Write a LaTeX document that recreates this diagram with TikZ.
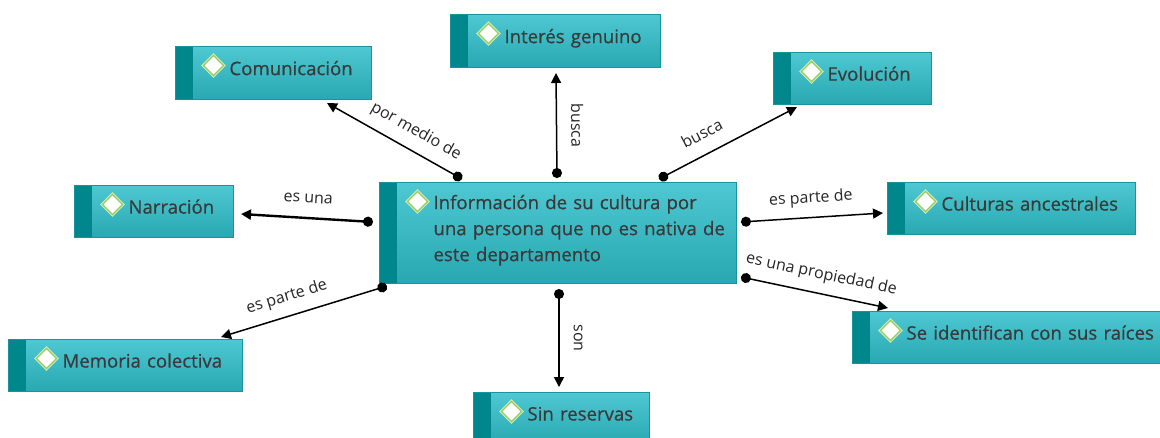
\documentclass[tikz,border=0pt]{standalone}
\usepackage{fontspec}
\setmainfont{Open Sans}
\newfontfamily\conceptfont{Open Sans}[FakeBold=0.6]
\usetikzlibrary{arrows.meta}

\definecolor{boxtop}{RGB}{78,200,210}
\definecolor{boxbot}{RGB}{40,168,178}
\definecolor{boxline}{RGB}{22,150,156}
\definecolor{boxstrip}{RGB}{0,135,140}
\definecolor{boxtext}{RGB}{58,58,58}
\definecolor{gem}{RGB}{150,205,95}

\begin{document}
\begin{tikzpicture}[
        x=1pt, y=-1pt,
        concept/.style={rectangle, draw=boxline, line width=1pt,
            top color=boxtop, bottom color=boxbot, anchor=north west,
            align=left, text=boxtext, font=\conceptfont\fontsize{18.6}{26}\selectfont,
            inner xsep=0pt, inner ysep=0pt,
            execute at begin node={\leftskip=54pt\vrule height 14pt depth 10pt width 0pt},
            execute at end node={\vrule height 14pt depth 10pt width 0pt},
            path picture={
                \fill[boxstrip] (path picture bounding box.north west) rectangle ([xshift=17pt]path picture bounding box.south west);
                \coordinate (gem_c) at ([shift={(38pt,-19pt)}]path picture bounding box.north west);
                \draw[gem!45, line width=3.5pt] (gem_c) ++(-10pt,0pt) -- ++(10pt,10pt) -- ++(10pt,-10pt) -- ++(-10pt,-10pt) -- cycle;
                \filldraw[fill=white, draw=gem, line width=1.3pt] (gem_c) ++(-10pt,0pt) -- ++(10pt,10pt) -- ++(10pt,-10pt) -- ++(-10pt,-10pt) -- cycle;
            }},
        link/.style={draw=black, line width=1.5pt, {Circle[length=10pt]}-{Triangle[length=10pt,width=10pt]}},
        link_back/.style={draw=black, line width=1.5pt, {Triangle[length=10pt,width=10pt]}-{Circle[length=10pt]}},
        link_label/.style={font=\fontsize{16}{18}\selectfont, text=black!85, inner sep=2pt,
            text height=12pt, text depth=4pt, sloped, above=8pt}
    ]

    \useasboundingbox (0,0) rectangle (1160,437);

    % --- Concepts ---
    \node[concept, text width=357pt, minimum height=101pt] (ctr) at (379,182)
        {Información de su cultura por\\una persona que no es nativa de\\este departamento};

    \node[concept, text width=196pt, minimum height=53pt] (com) at (175,46) {Comunicación};
    \node[concept, text width=210pt, minimum height=53pt] (int) at (450,14) {Interés genuino};
    \node[concept, text width=158pt, minimum height=52pt] (evo) at (773,52) {Evolución};
    \node[concept, text width=159pt, minimum height=52pt] (nar) at (74,185) {Narración};
    \node[concept, text width=248pt, minimum height=52pt] (cul) at (887,182) {Culturas ancestrales};
    \node[concept, text width=310pt, minimum height=52pt] (ide) at (852,311) {Se identifican con sus raíces};
    \node[concept, text width=234pt, minimum height=52pt] (mem) at (8,339) {Memoria colectiva};
    \node[concept, text width=176pt, minimum height=52pt] (sin) at (473,392) {Sin reservas};

    % --- Links ---
    \draw[link] ([shift={(83,-3)}]ctr.north west) -- node[link_label, pos=0.41] {por medio de} ([shift={(-45,3)}]com.south east);
    \draw[link_back] ([shift={(106,5)}]int.south west) -- node[link_label] {busca} ([shift={(178,-4)}]ctr.north west);
    \draw[link] ([shift={(280,-3)}]ctr.north west) -- node[link_label, pos=0.38] {busca} ([shift={(24,2)}]evo.south west);
    \draw[link, line width=2.4pt] ([shift={(-6,40)}]ctr.north west) -- node[link_label] {es una} ([shift={(7,-24)}]nar.south east);
    \draw[link] ([shift={(4,40)}]ctr.north east) -- node[link_label] {es parte de} ([shift={(-4,31)}]cul.north west);
    \draw[link] ([shift={(4,-7)}]ctr.south east) -- node[link_label, pos=0.52] {es una propiedad de} ([shift={(36,-3)}]ide.north west);
    \draw[link] ([shift={(180,5)}]ctr.south west) -- node[link_label] {son} ([shift={(86,-5)}]sin.north west);
    \draw[link] ([shift={(8,2)}]ctr.south west) -- node[link_label, pos=0.57] {es parte de} ([shift={(-22,-2)}]mem.north east);

\end{tikzpicture}
\end{document}
